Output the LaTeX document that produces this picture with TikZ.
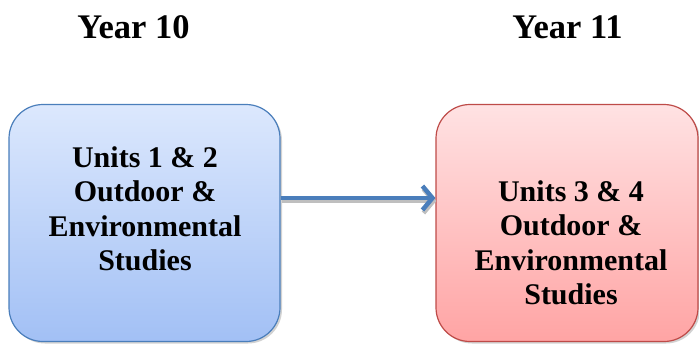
\documentclass[tikz,border=0pt]{standalone}
\usepackage{fontspec}
\setmainfont{Liberation Serif}
\usetikzlibrary{arrows.meta,shadows,positioning}

\definecolor{blueedge}{HTML}{4A7EBB}
\definecolor{bluetop}{HTML}{DCE8FD}
\definecolor{bluebot}{HTML}{A2C0F5}
\definecolor{rededge}{HTML}{BE4B48}
\definecolor{redtop}{HTML}{FFE2E3}
\definecolor{redbot}{HTML}{FFA4A4}

\tikzset{
  unitbox/.style={rectangle,rounded corners=34pt,line width=1.2pt,
    minimum width=271pt,minimum height=237pt,inner sep=0pt,
    drop shadow={shadow xshift=2pt,shadow yshift=-2pt,fill=black!35}},
  yeartitle/.style={inner sep=0pt,font=\fontsize{34.5}{40}\selectfont\bfseries},
  unittext/.style={inner sep=0pt,align=center,font=\fontsize{30}{34.5}\selectfont\bfseries}
}

\begin{document}
\begin{tikzpicture}[x=1pt,y=-1pt]
        \useasboundingbox (0,0) rectangle (699,343);

        % year headings
        \node[yeartitle,anchor=base] (y10) at (133.5,38) {Year 10};
        \node[yeartitle,anchor=base] (y11) at (567.5,38) {Year 11};

        % the two unit boxes
        \node[unitbox,draw=blueedge,top color=bluetop,bottom color=bluebot]
          (u12) at (144.5,223) {};
        \node[unitbox,draw=rededge,top color=redtop,bottom color=redbot,
          minimum width=262pt] (u34) at (567,223) {};

        \node[unittext] (t12) at (145,209)
          {Units 1 \& 2\\Outdoor \&\\Environmental\\Studies};
        \node[unittext] (t34) at (571,243)
          {Units 3 \& 4\\Outdoor \&\\Environmental\\Studies};

        % arrow, with its shadow
        \draw[line width=4.5pt,black!25,-{Straight Barb[length=10pt,width=24pt]}]
          ([xshift=1pt,yshift=22pt]u12.east) -- ([xshift=1pt,yshift=22pt]u34.west);
        \draw[line width=4.5pt,blueedge,-{Straight Barb[length=10pt,width=24pt]}]
          ([yshift=25pt]u12.east) -- ([yshift=25pt]u34.west);
\end{tikzpicture}
\end{document}
